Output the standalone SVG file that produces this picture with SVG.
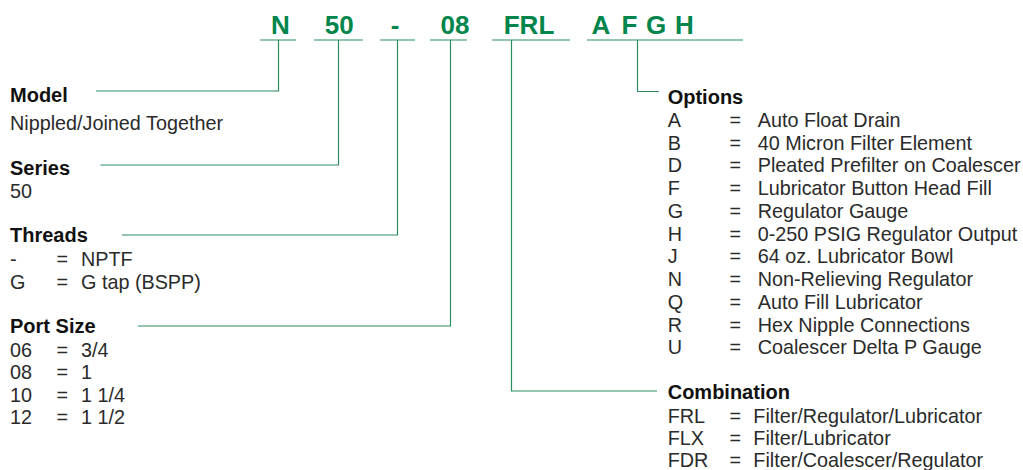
<svg xmlns="http://www.w3.org/2000/svg" width="1023" height="470" viewBox="0 0 1023 470">
<style>
.code{font-family:"Liberation Sans",Arial,sans-serif;font-weight:bold;font-size:26px;fill:#00864c;text-anchor:middle}
.ul{stroke:#2a8c5f;stroke-width:1.2;fill:none}
.con{stroke:#2a8c5f;stroke-width:1.2;fill:none}
.h{font-family:"Liberation Sans",Arial,sans-serif;font-weight:bold;font-size:20px;fill:#111}
.t{font-family:"Liberation Sans",Arial,sans-serif;font-size:19.8px;fill:#2a2a2a}
</style>
<rect width="1023" height="470" fill="#fff"/>
<g id="code-N"><text class="code" x="280.5" y="34.3">N</text><line class="ul" x1="260" y1="40" x2="296" y2="40"/></g>
<g id="code-50"><text class="code" x="339.3" y="34.3">50</text><line class="ul" x1="314" y1="40" x2="363" y2="40"/></g>
<g id="code-dash"><text class="code" x="395" y="34.3">-</text><line class="ul" x1="380" y1="40" x2="415" y2="40"/></g>
<g id="code-08"><text class="code" x="455" y="34.3">08</text><line class="ul" x1="430" y1="40" x2="467" y2="40"/></g>
<g id="code-FRL"><text class="code" x="529" y="34.3">FRL</text><line class="ul" x1="492" y1="40" x2="570" y2="40"/></g>
<g id="code-AFGH"><text class="code" x="600.9" y="34.3">A</text><text class="code" x="629.5" y="34.3">F</text><text class="code" x="656" y="34.3">G</text><text class="code" x="684.5" y="34.3">H</text><line class="ul" x1="587" y1="40" x2="743" y2="40"/></g>
<g id="connectors">
<path class="con" d="M278.5,40 V91 H96"/>
<path class="con" d="M338.5,40 V165 H100.5"/>
<path class="con" d="M397.5,40 V235 H122"/>
<path class="con" d="M450.5,40 V326 H138"/>
<path class="con" d="M511.5,40 V391 H657"/>
<path class="con" d="M637.5,40 V91.5 H659"/>
</g>
<g id="model"><text class="h" x="10" y="101.7">Model</text><text class="t" x="10" y="130">Nippled/Joined Together</text></g>
<g id="series"><text class="h" x="10" y="175">Series</text><text class="t" x="10" y="198.3">50</text></g>
<g id="threads"><text class="h" x="10" y="242.3">Threads</text>
<text class="t" x="10" y="265.7">-</text><text class="t" x="56.5" y="265.7">=</text><text class="t" x="81" y="265.7">NPTF</text>
<text class="t" x="10" y="288.7">G</text><text class="t" x="56.5" y="288.7">=</text><text class="t" x="81" y="288.7">G tap (BSPP)</text></g>
<g id="port-size"><text class="h" x="10" y="333.3">Port Size</text>
<text class="t" x="10" y="356.7">06</text><text class="t" x="56.5" y="356.7">=</text><text class="t" x="81" y="356.7">3/4</text>
<text class="t" x="10" y="379.3">08</text><text class="t" x="56.5" y="379.3">=</text><text class="t" x="81" y="379.3">1</text>
<text class="t" x="10" y="401.7">10</text><text class="t" x="56.5" y="401.7">=</text><text class="t" x="81" y="401.7">1 1/4</text>
<text class="t" x="10" y="424.3">12</text><text class="t" x="56.5" y="424.3">=</text><text class="t" x="81" y="424.3">1 1/2</text></g>
<g id="options"><text class="h" x="667.7" y="104">Options</text>
<text class="t" x="667.7" y="126.7">A</text><text class="t" x="729.5" y="126.7">=</text><text class="t" x="757.7" y="126.7">Auto Float Drain</text>
<text class="t" x="667.7" y="149.5">B</text><text class="t" x="729.5" y="149.5">=</text><text class="t" x="757.7" y="149.5">40 Micron Filter Element</text>
<text class="t" x="667.7" y="172.2">D</text><text class="t" x="729.5" y="172.2">=</text><text class="t" x="757.7" y="172.2">Pleated Prefilter on Coalescer</text>
<text class="t" x="667.7" y="195">F</text><text class="t" x="729.5" y="195">=</text><text class="t" x="757.7" y="195">Lubricator Button Head Fill</text>
<text class="t" x="667.7" y="217.7">G</text><text class="t" x="729.5" y="217.7">=</text><text class="t" x="757.7" y="217.7">Regulator Gauge</text>
<text class="t" x="667.7" y="240.5">H</text><text class="t" x="729.5" y="240.5">=</text><text class="t" x="757.7" y="240.5">0-250 PSIG Regulator Output</text>
<text class="t" x="667.7" y="263.3">J</text><text class="t" x="729.5" y="263.3">=</text><text class="t" x="757.7" y="263.3">64 oz. Lubricator Bowl</text>
<text class="t" x="667.7" y="286">N</text><text class="t" x="729.5" y="286">=</text><text class="t" x="757.7" y="286">Non-Relieving Regulator</text>
<text class="t" x="667.7" y="308.8">Q</text><text class="t" x="729.5" y="308.8">=</text><text class="t" x="757.7" y="308.8">Auto Fill Lubricator</text>
<text class="t" x="667.7" y="331.5">R</text><text class="t" x="729.5" y="331.5">=</text><text class="t" x="757.7" y="331.5">Hex Nipple Connections</text>
<text class="t" x="667.7" y="354.3">U</text><text class="t" x="729.5" y="354.3">=</text><text class="t" x="757.7" y="354.3">Coalescer Delta P Gauge</text></g>
<g id="combination"><text class="h" x="667.7" y="399.3">Combination</text>
<text class="t" x="667.7" y="422.7">FRL</text><text class="t" x="729.5" y="422.7">=</text><text class="t" x="753.3" y="422.7">Filter/Regulator/Lubricator</text>
<text class="t" x="667.7" y="445">FLX</text><text class="t" x="729.5" y="445">=</text><text class="t" x="753.3" y="445">Filter/Lubricator</text>
<text class="t" x="667.7" y="466.7">FDR</text><text class="t" x="729.5" y="466.7">=</text><text class="t" x="753.3" y="466.7">Filter/Coalescer/Regulator</text></g>
</svg>
